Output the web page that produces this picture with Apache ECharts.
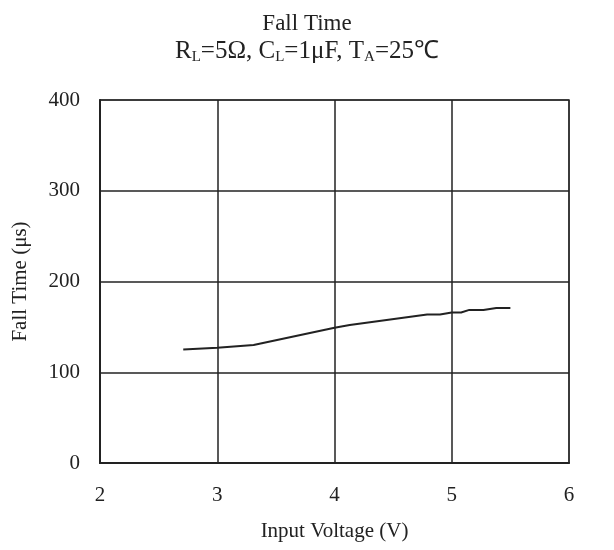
<!DOCTYPE html>
<html>
<head>
<meta charset="utf-8">
<script src="https://cdn.jsdelivr.net/npm/echarts@6/dist/echarts.min.js"></script>
<style>html,body{margin:0;padding:0;background:#fff;}#c{width:614px;height:550px;}</style>
</head>
<body>
<div id="c"></div>
<script>
var voltage = [2.71, 3.0, 3.31, 4.0, 4.13, 4.79, 4.90, 5.0, 5.08, 5.15, 5.27, 5.38, 5.50];
var fallTime = [125, 127, 130, 149, 152, 163.6, 163.6, 165.8, 165.8, 168.7, 168.7, 170.9, 170.9];
var xTicks = [2, 3, 4, 5, 6];
var yTicks = [0, 100, 200, 300, 400];

var font = "'Liberation Serif', 'Times New Roman', serif";
var chart = echarts.init(document.getElementById('c'));
chart.setOption({
  backgroundColor: '#fff',
  animation: false,
  title: {
    text: '{a|Fall Time}\n{b|R}{sub|L}{b|=5Ω, C}{sub|L}{b|=1μF, T}{sub|A}{b|=25℃}',
    left: 'center',
    top: 6,
    textStyle: {
      fontFamily: font, fontSize: 22, fontWeight: 'normal', color: '#222',
      rich: {
        a: { fontFamily: font, fontSize: 23, color: '#222', lineHeight: 26 },
        b: { fontFamily: font, fontSize: 25, color: '#222', lineHeight: 28 },
        sub: { fontFamily: font, fontSize: 15, color: '#222', lineHeight: 12, verticalAlign: 'bottom' }
      }
    }
  },
  grid: { left: 100, right: 45, top: 100, bottom: 87, show: true, borderColor: '#888', borderWidth: 2 },
  xAxis: {
    type: 'value', min: xTicks[0], max: xTicks[xTicks.length - 1], interval: 1,
    name: 'Input Voltage (V)', nameLocation: 'middle', nameGap: 58,
    nameTextStyle: { fontFamily: font, fontSize: 21, color: '#222' },
    axisLine: { lineStyle: { color: '#222', width: 2 } },
    axisTick: { show: false },
    axisLabel: { fontFamily: font, fontSize: 21, color: '#222', margin: 22 },
    splitLine: { lineStyle: { color: '#222', width: 1.5 } }
  },
  yAxis: {
    type: 'value', min: yTicks[0], max: yTicks[yTicks.length - 1], interval: 100,
    name: 'Fall Time (μs)', nameLocation: 'middle', nameGap: 69,
    nameTextStyle: { fontFamily: font, fontSize: 21, color: '#222' },
    axisLine: { show: true, lineStyle: { color: '#222', width: 2 } },
    axisTick: { show: false },
    axisLabel: { fontFamily: font, fontSize: 21, color: '#222', margin: 20 },
    splitLine: { lineStyle: { color: '#222', width: 1.5 } }
  },
  series: [{
    type: 'line',
    data: voltage.map(function (v, i) { return [v, fallTime[i]]; }),
    showSymbol: false,
    lineStyle: { color: '#222', width: 2 }
  }]
});
</script>
</body>
</html>
